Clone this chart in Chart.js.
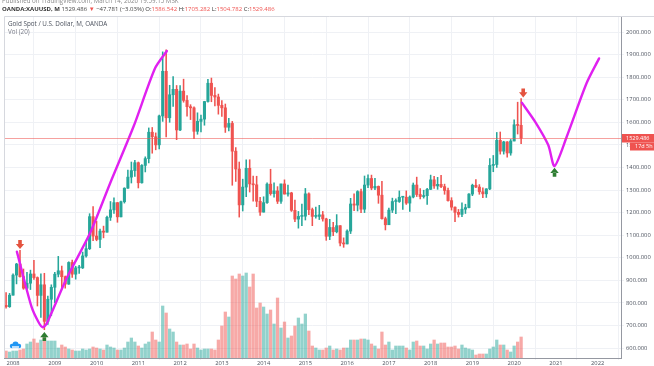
<!DOCTYPE html>
<html>
<head>
<meta charset="utf-8">
<script src="https://cdn.jsdelivr.net/npm/chart.js@4.4.1/dist/chart.umd.min.js"></script>
<style>
  html, body { margin: 0; padding: 0; background: #fff; }
</style>
</head>
<body>
<canvas id="goldChart" width="654" height="366"></canvas>
<script>
// monthly candles, Nov 2007 .. Mar 2020 (month index counted from Jan 2008)
const firstMonth = -2;
const opens = [789, 783,
  834, 923, 972, 916, 865, 887, 928, 912, 833, 880, 718, 816,
  869, 927, 942, 916, 883, 979, 927, 955, 955, 1008, 1040, 1182,
  1096, 1081, 1118, 1113, 1179, 1212, 1244, 1181, 1248, 1308, 1357, 1386,
  1421, 1332, 1409, 1439, 1556, 1536, 1500, 1628, 1826, 1620, 1722, 1746,
  1566, 1738, 1697, 1669, 1664, 1560, 1604, 1614, 1692, 1773, 1719, 1712,
  1675, 1664, 1578, 1595, 1472, 1393, 1234, 1313, 1396, 1327, 1323, 1250,
  1202, 1244, 1326, 1284, 1296, 1250, 1327, 1282, 1287, 1210, 1171, 1183,
  1184, 1283, 1213, 1183, 1183, 1190, 1172, 1095, 1134, 1115, 1142, 1065,
  1061, 1118, 1238, 1233, 1293, 1215, 1322, 1351, 1309, 1316, 1277, 1173,
  1146, 1211, 1249, 1249, 1268, 1268, 1242, 1269, 1322, 1280, 1271, 1275,
  1303, 1345, 1318, 1325, 1315, 1298, 1253, 1224, 1201, 1192, 1215, 1222,
  1282, 1321, 1313, 1292, 1283, 1305, 1409, 1413, 1520, 1472, 1513, 1464,
  1517, 1589, 1586.542];
const highs = [845, 842,
  929, 975, 1033, 950, 935, 945, 988, 915, 929, 931, 830, 880,
  935, 1006, 963, 919, 982, 990, 962, 966, 1025, 1070, 1195, 1227,
  1162, 1127, 1140, 1184, 1249, 1265, 1245, 1251, 1310, 1388, 1424, 1431,
  1424, 1413, 1447, 1575, 1577, 1553, 1632, 1912, 1921, 1764, 1803, 1763,
  1763, 1791, 1718, 1678, 1668, 1642, 1632, 1693, 1790, 1796, 1754, 1725,
  1696, 1681, 1617, 1604, 1488, 1424, 1348, 1434, 1434, 1362, 1361, 1267,
  1270, 1332, 1392, 1332, 1315, 1326, 1345, 1322, 1290, 1255, 1205, 1238,
  1307, 1287, 1220, 1224, 1232, 1205, 1175, 1170, 1157, 1191, 1142, 1088,
  1123, 1263, 1283, 1297, 1304, 1362, 1367, 1366, 1352, 1318, 1338, 1180,
  1220, 1264, 1261, 1296, 1270, 1296, 1274, 1331, 1357, 1306, 1299, 1307,
  1366, 1361, 1356, 1365, 1326, 1309, 1266, 1225, 1214, 1243, 1237, 1284,
  1326, 1346, 1324, 1310, 1306, 1439, 1453, 1555, 1557, 1516, 1515, 1524,
  1611, 1689, 1705.282];
const lows = [776, 780,
  834, 884, 914, 860, 850, 859, 904, 786, 735, 681, 705, 743,
  801, 915, 865, 865, 882, 913, 905, 930, 952, 1002, 1036, 1075,
  1075, 1044, 1088, 1113, 1165, 1196, 1157, 1181, 1242, 1307, 1331, 1360,
  1309, 1330, 1380, 1420, 1463, 1478, 1482, 1604, 1535, 1600, 1670, 1523,
  1563, 1689, 1627, 1612, 1527, 1547, 1557, 1587, 1689, 1691, 1672, 1636,
  1626, 1555, 1562, 1321, 1338, 1180, 1207, 1270, 1291, 1251, 1226, 1187,
  1202, 1240, 1277, 1268, 1240, 1240, 1282, 1273, 1205, 1160, 1131, 1142,
  1167, 1191, 1142, 1175, 1169, 1162, 1077, 1080, 1098, 1110, 1052, 1046,
  1061, 1107, 1208, 1207, 1200, 1200, 1310, 1301, 1302, 1241, 1171, 1123,
  1146, 1200, 1195, 1245, 1214, 1236, 1205, 1265, 1271, 1261, 1264, 1236,
  1302, 1307, 1303, 1310, 1281, 1250, 1211, 1160, 1180, 1182, 1196, 1221,
  1275, 1310, 1281, 1266, 1267, 1301, 1381, 1400, 1459, 1459, 1446, 1454,
  1517, 1548, 1504.782];
const closes = [783, 834,
  923, 972, 916, 865, 887, 928, 912, 833, 880, 718, 816, 869,
  927, 942, 916, 883, 979, 927, 955, 955, 1008, 1040, 1182, 1096,
  1081, 1118, 1113, 1179, 1212, 1244, 1181, 1248, 1308, 1357, 1386, 1421,
  1332, 1409, 1439, 1556, 1536, 1500, 1628, 1826, 1620, 1722, 1746, 1566,
  1738, 1697, 1669, 1664, 1560, 1604, 1614, 1692, 1773, 1719, 1712, 1675,
  1664, 1578, 1595, 1472, 1393, 1234, 1313, 1396, 1327, 1323, 1250, 1202,
  1244, 1326, 1284, 1296, 1250, 1327, 1282, 1287, 1210, 1171, 1183, 1184,
  1283, 1213, 1183, 1183, 1190, 1172, 1095, 1134, 1115, 1142, 1065, 1061,
  1118, 1238, 1233, 1293, 1215, 1322, 1351, 1309, 1316, 1277, 1173, 1146,
  1211, 1249, 1249, 1268, 1268, 1242, 1269, 1322, 1280, 1271, 1275, 1303,
  1345, 1318, 1325, 1315, 1298, 1253, 1224, 1201, 1192, 1215, 1222, 1282,
  1321, 1313, 1292, 1283, 1305, 1409, 1413, 1520, 1472, 1513, 1464, 1517,
  1589, 1586, 1529.486];
const volumes = [7, 6,
  7, 7, 8, 9, 14, 16, 19, 15, 18, 23, 17, 17,
  17, 10, 13, 11, 9, 8, 7, 7, 9, 8, 9, 11,
  10, 9, 8, 13, 11, 10, 8, 8, 10, 16, 20, 16,
  12, 10, 14, 16, 26, 18, 16, 52, 45, 29, 26, 16,
  13, 13, 14, 9, 14, 10, 8, 9, 9, 9, 8, 18,
  32, 46, 41, 82, 79, 84, 82, 85, 71, 84, 50, 55,
  51, 44, 48, 34, 60, 30, 36, 20, 22, 32, 40, 34,
  44, 27, 12, 10, 8, 8, 10, 12, 8, 9, 8, 10,
  10, 18, 18, 18, 19, 19, 18, 14, 12, 9, 26, 13,
  16, 8, 12, 12, 12, 10, 8, 16, 17, 12, 12, 9,
  14, 18, 14, 15, 15, 11, 11, 12, 9, 13, 10, 9,
  8, 3, 4, 4, 4, 9, 11, 18, 13, 13, 8, 6,
  12, 16, 21];
const yearTicks = ['2008', '2009', '2010', '2011', '2012', '2013', '2014', '2015',
  '2016', '2017', '2018', '2019', '2020', '2021', '2022'];

// hand drawn projection lines (month index, price)
const drawnPath1 = [[1.1, 1027], [5.3, 783], [7.3, 715], [8.5, 692], [9.7, 709],
  [15.4, 909], [22.1, 1108], [27.9, 1330], [34.6, 1580], [40.8, 1839], [44.2, 1916]];
const drawnPath2 = [[146.2, 1687], [150, 1603], [153.8, 1499], [155.6, 1406],
  [159.1, 1536], [164.8, 1773], [168.4, 1883]];
const arrowsDown = [[2, 1056], [146.6, 1728]];
const arrowsUp = [[9, 653], [155.6, 1381]];

const lastClose = 1529.486;
const months = opens.map((_, i) => firstMonth + i);

const upCol = '#26a69a', downCol = '#ef5350';
const volUp = 'rgba(38,166,154,0.5)', volDown = 'rgba(239,83,80,0.5)';
const isUp = i => closes[i] >= opens[i];
const FONT = '"Open Sans", Roboto, sans-serif';
const gridCol = '#eff1f5';

const chartDecor = {
  id: 'chartDecor',
  beforeDraw(chart) {
    const c = chart.ctx;
    c.save();
    c.fillStyle = '#fff';
    c.fillRect(0, 0, chart.width, chart.height);
    c.restore();
  },
  afterDatasetsDraw(chart) {
    const c = chart.ctx, a = chart.chartArea;
    const xs = chart.scales.x, ys = chart.scales.y;
    c.save();
    // last price line
    const py = Math.round(ys.getPixelForValue(lastClose)) + 0.5;
    c.strokeStyle = 'rgba(239,83,80,0.55)';
    c.lineWidth = 1;
    c.beginPath(); c.moveTo(a.left, py); c.lineTo(a.right, py); c.stroke();

    // arrows
    const drawArrow = (m, p, down) => {
      const x = xs.getPixelForValue(m), y = ys.getPixelForValue(p);
      c.fillStyle = down ? '#e4533f' : '#2e7d32';
      c.beginPath();
      if (down) {
        c.rect(x - 1.8, y - 5, 3.6, 4);
        c.moveTo(x - 4.2, y - 1.2); c.lineTo(x + 4.2, y - 1.2); c.lineTo(x, y + 4);
      } else {
        c.rect(x - 1.8, y + 1, 3.6, 4);
        c.moveTo(x - 4.2, y + 1.2); c.lineTo(x + 4.2, y + 1.2); c.lineTo(x, y - 4);
      }
      c.fill();
    };
    arrowsDown.forEach(([m, p]) => drawArrow(m, p, true));
    arrowsUp.forEach(([m, p]) => drawArrow(m, p, false));

    // frame
    c.strokeStyle = '#d6d8de';
    c.beginPath();
    c.moveTo(a.left + 0.5, a.bottom); c.lineTo(a.left + 0.5, a.top + 0.5); c.lineTo(chart.width, a.top + 0.5);
    c.stroke();

    // price labels on the axis
    c.fillStyle = '#ef5350';
    c.fillRect(a.right + 1, py - 4.5, chart.width - a.right - 1, 8.5);
    c.fillRect(a.right + 9, py + 4, chart.width - a.right - 9, 8);
    c.fillStyle = '#fff';
    c.font = '5.5px ' + FONT;
    c.textBaseline = 'middle';
    c.fillText('1529.486', a.right + 5, py);
    c.fillText('17d 5h', a.right + 14, py + 8);

    // legend text inside pane
    c.fillStyle = '#4c525e';
    c.font = '6.3px ' + FONT;
    c.fillText('Gold Spot / U.S. Dollar, M, OANDA', a.left + 4, 24.5);
    c.fillStyle = '#787b86';
    c.fillText('Vol (20)', a.left + 4, 32.5);

    // logo
    c.fillStyle = '#2196f3';
    c.beginPath();
    c.arc(12, 346, 2.2, 0, Math.PI * 2);
    c.arc(15.5, 344.5, 3, 0, Math.PI * 2);
    c.arc(19, 346, 2.2, 0, Math.PI * 2);
    c.fill();
    c.fillStyle = '#bbdefb';
    c.fillRect(12, 346, 7, 2);

    // header
    c.textBaseline = 'middle';
    c.font = '6.2px ' + FONT;
    c.fillStyle = '#888';
    c.fillText('Published on TradingView.com, March 14, 2020 19:59:15 MSK', 2, 1.5);
    let x = 2;
    const part = (t, col, bold) => {
      c.font = (bold ? 'bold ' : '') + '6px ' + FONT;
      c.fillStyle = col;
      c.fillText(t, x, 9);
      x += c.measureText(t).width;
    };
    part('OANDA:XAUUSD, M ', '#333', true);
    part('1529.486 ', '#444');
    part('\u25BC', '#ef5350');
    part(' \u221247.781 (\u22123.03%) ', '#444');
    part('O:', '#333'); part('1586.542 ', '#ef5350');
    part('H:', '#333'); part('1705.282 ', '#ef5350');
    part('L:', '#333'); part('1504.782 ', '#ef5350');
    part('C:', '#333'); part('1529.486', '#ef5350');
    c.restore();
  }
};

new Chart(document.getElementById('goldChart'), {
  type: 'bar',
  data: {
    datasets: [
      {
        label: 'Vol', yAxisID: 'v', grouped: false, order: 6,
        data: months.map((m, i) => ({ x: m, y: volumes[i] })),
        backgroundColor: months.map((m, i) => isUp(i) ? volUp : volDown),
        barThickness: 2.6
      },
      {
        label: 'wick', yAxisID: 'y', grouped: false, order: 5,
        data: months.map((m, i) => ({ x: m, y: [lows[i], highs[i]] })),
        backgroundColor: months.map((m, i) => isUp(i) ? upCol : downCol),
        barThickness: 0.9
      },
      {
        label: 'body', yAxisID: 'y', grouped: false, order: 4, minBarLength: 1,
        data: months.map((m, i) => ({ x: m, y: [opens[i], closes[i]] })),
        backgroundColor: months.map((m, i) => isUp(i) ? upCol : downCol),
        barThickness: 2.4
      },
      {
        type: 'line', label: 'path1', yAxisID: 'y', order: 1,
        data: drawnPath1.map(([m, p]) => ({ x: m, y: p })),
        borderColor: '#e020f0', borderWidth: 2.4, pointRadius: 0, tension: 0.25,
        borderCapStyle: 'round', borderJoinStyle: 'round'
      },
      {
        type: 'line', label: 'path2', yAxisID: 'y', order: 1,
        data: drawnPath2.map(([m, p]) => ({ x: m, y: p })),
        borderColor: '#e020f0', borderWidth: 2.4, pointRadius: 0, tension: 0.25,
        borderCapStyle: 'round', borderJoinStyle: 'round'
      }
    ]
  },
  options: {
    responsive: false,
    animation: false,
    events: [],
    layout: { padding: { top: 16, left: 4, right: 0, bottom: 0 } },
    plugins: { legend: { display: false }, tooltip: { enabled: false } },
    scales: {
      x: {
        type: 'linear', min: -2.6, max: 174.7, offset: false,
        afterFit: s => { s.height = 8; },
        grid: { color: gridCol, tickLength: 2 },
        border: { color: '#9598a1' },
        ticks: {
          stepSize: 12, includeBounds: false, autoSkip: false, maxRotation: 0, padding: 0,
          color: '#4c525e', font: { size: 5.8, family: FONT },
          callback: v => yearTicks[v / 12]
        }
      },
      y: {
        position: 'right', min: 555.7, max: 2070.9,
        afterFit: s => { s.width = 33; },
        grid: { color: gridCol, tickLength: 3 },
        border: { color: '#9598a1' },
        ticks: {
          stepSize: 100, includeBounds: false, padding: 2,
          color: '#4c525e', font: { size: 5.8, family: FONT },
          callback: v => v.toFixed(3)
        }
      },
      v: { display: false, min: 0, max: 342 }
    }
  },
  plugins: [chartDecor]
});
</script>
</body>
</html>
